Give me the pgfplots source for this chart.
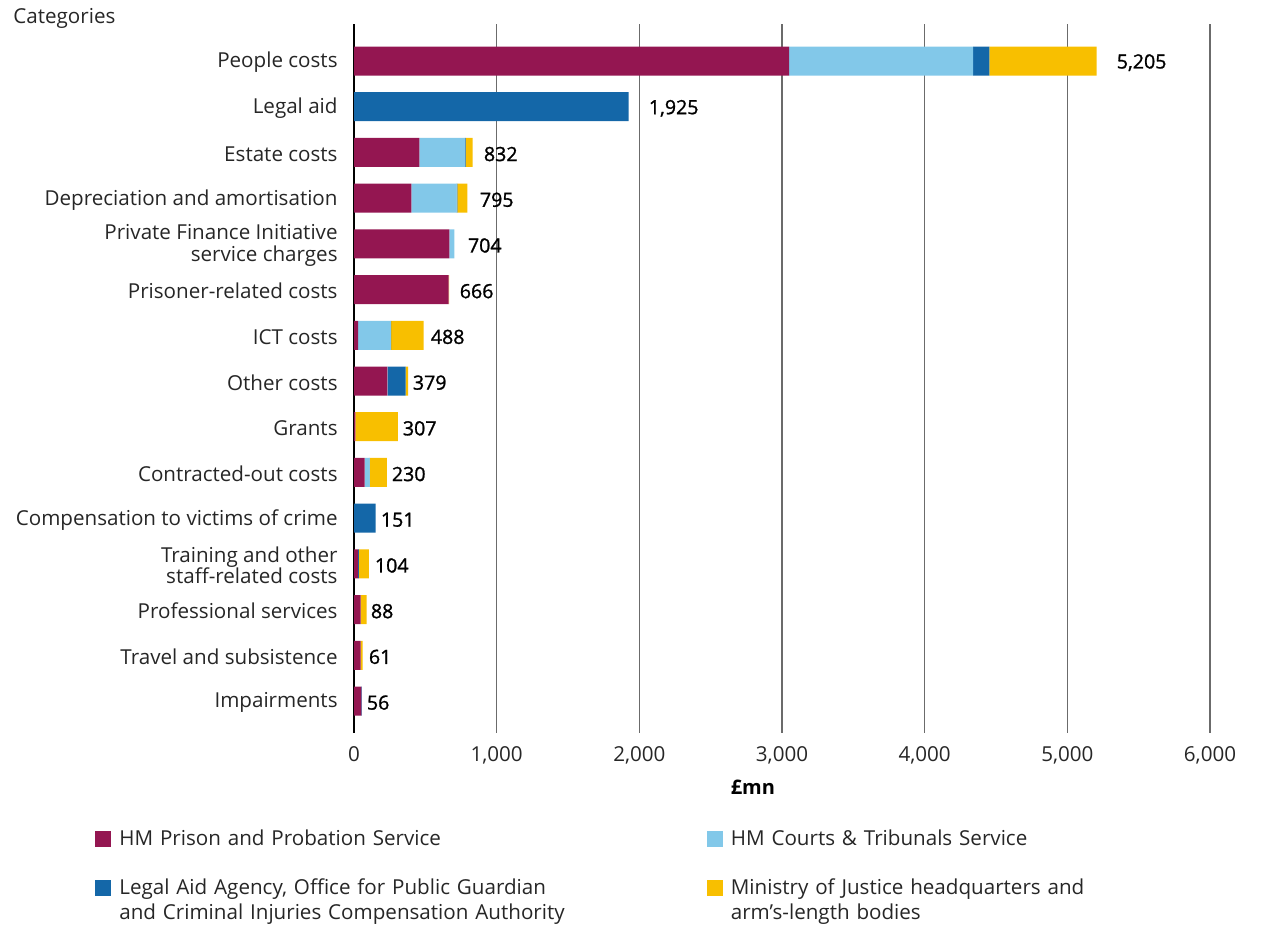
\documentclass[border=0pt]{standalone}
\usepackage{pgfplots}
\pgfplotsset{compat=1.18}
\usepackage{pgfplotstable}
\usepackage{fontspec}
\setmainfont{Open Sans}
\newfontfamily\semib[FakeBold=1.2]{Open Sans}
\definecolor{cA}{HTML}{941651}
\definecolor{cB}{HTML}{82C8E9}
\definecolor{cC}{HTML}{1467A8}
\definecolor{cD}{HTML}{F8BF00}
\definecolor{gridc}{HTML}{6B6B6B}
\definecolor{txt}{HTML}{262626}
\pgfplotstableread{
y a b c d t lx lab
0 3050 1290 113 752 5205 5344 5,205
1 0 0 1925 0 1925 2064 1,925
2 459 318 5 50 832 908 832
3 403 317 5 70 795 880 795
4 669 35 0 0 704 796 704
5 663 0 0 3 666 739 666
6 29 229 3 227 488 536 488
7 234 2 125 18 379 410 379
8 10 0 0 297 307 340 307
9 74 35 3 118 230 263 230
10 0 0 151 0 151 186 151
11 29 0 5 70 104 144 104
12 46 0 0 42 88 116 88
13 46 0 0 15 61 102 61
14 52 0 4 0 56 88 56
}\data
\begin{document}
\begin{tikzpicture}
\useasboundingbox (0,0) rectangle (631.5pt,464pt);
\node[anchor=west, inner sep=0pt, font=\fontsize{10.3}{12}\selectfont, text=txt] at (6.5pt,455pt) {Categories};
\begin{axis}[
  at={(177pt,97.5pt)}, anchor=south west,
  scale only axis, width=428pt, height=354.5pt,
  xbar stacked, bar width=14.5pt,
  xmin=0, xmax=6000, ymin=-0.81, ymax=14.70, y dir=reverse,
  axis line style={draw=none},
  xtick={1000,2000,3000,4000,5000,6000},
  extra x ticks={0},
  extra x tick style={grid style={black, line width=0.7pt}},
  xmajorgrids, grid style={gridc, line width=0.65pt},
  major tick length=0pt,
  tick style={draw=none},
  /pgf/number format/1000 sep={,},
  /pgf/number format/assume math mode=true,
  ytick={0,...,14},
  yticklabels={People costs, Legal aid, Estate costs, Depreciation and amortisation, {Private Finance Initiative\\service charges}, Prisoner-related costs, ICT costs, Other costs, Grants, Contracted-out costs, Compensation to victims of crime, {Training and other\\staff-related costs}, Professional services, Travel and subsistence, Impairments},
  yticklabel style={align=right, inner sep=0pt, xshift=-8pt, yshift=-0.8pt, font=\fontsize{10.3}{10.7}\selectfont, text=txt},
  xticklabel style={font=\fontsize{10.3}{12}\selectfont, text=txt, yshift=-3pt},
  xlabel={\textbf{£mn}},
  xlabel style={at={(axis description cs:0.466,-0.076)}, anchor=center, font=\fontsize{10}{12}\selectfont},
  legend columns=2,
  legend style={at={(axis description cs:-0.3026,-0.131)}, anchor=north west, draw=none, fill=none, inner sep=0pt,
    row sep=11pt, font=\fontsize{10.3}{12.5}\selectfont, text=txt,
    nodes={text width=270pt, align=left},
    /tikz/every odd column/.append style={column sep=2pt},
    /tikz/every even column/.append style={column sep=21.75pt}},
  legend cell align=left,
]
\addplot[fill=cA, draw=none, legend image code/.code={\fill[cA] (0pt,-3.7pt) rectangle (8pt,4.3pt);}] table[x=a,y=y]{\data};
\addplot[fill=cB, draw=none, legend image code/.code={\fill[cB] (0pt,-3.7pt) rectangle (8pt,4.3pt);}] table[x=b,y=y]{\data};
\addplot[fill=cC, draw=none, legend image code/.code={\fill[cC] (0pt,-3.7pt) rectangle (8pt,4.3pt);}] table[x=c,y=y]{\data};
\addplot[fill=cD, draw=none, legend image code/.code={\fill[cD] (0pt,-3.7pt) rectangle (8pt,4.3pt);}] table[x=d,y=y]{\data};
\addlegendentry{HM Prison and Probation Service}
\addlegendentry{HM Courts \& Tribunals Service}
\addlegendentry{Legal Aid Agency, Office for Public Guardian\\and Criminal Injuries Compensation Authority}
\addlegendentry{Ministry of Justice headquarters and\\arm's-length bodies}
\end{axis}
\begin{axis}[
  at={(177pt,97.5pt)}, anchor=south west,
  scale only axis, width=428pt, height=354.5pt,
  xbar, bar width=14.5pt,
  xmin=0, xmax=6000, ymin=-0.81, ymax=14.70, y dir=reverse,
  hide axis,
]
\addplot[draw=none, fill=none, point meta=explicit symbolic,
  nodes near coords, nodes near coords style={anchor=west, inner sep=0pt, yshift=-0.8pt, font=\semib\fontsize{9.8}{11}\selectfont, text=black}]
  table[x=lx,y=y,meta=lab]{\data};
\end{axis}
\end{tikzpicture}
\end{document}
